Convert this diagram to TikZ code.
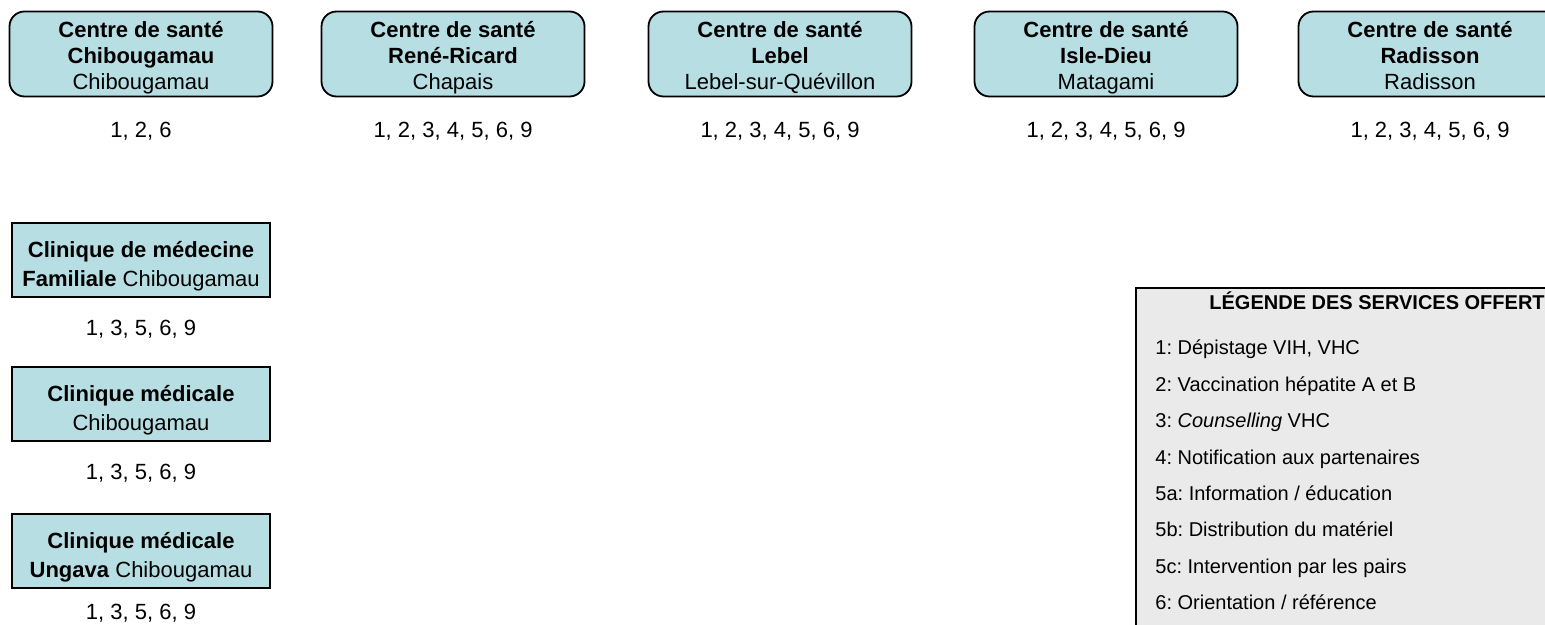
\documentclass[tikz,border=0pt]{standalone}
\usepackage{fontspec}
\setmainfont{Liberation Sans}
\usepackage{xcolor}
\usepackage{tikz}
\usetikzlibrary{positioning}
\frenchspacing

\definecolor{santebleu}{RGB}{183,222,226}
\definecolor{legendegris}{RGB}{234,234,234}

\begin{document}
\begin{tikzpicture}[
    x=0.5pt, y=-0.5pt,
    centrebox/.style={rectangle, draw, line width=0.9pt, rounded corners=7.5pt, fill=santebleu, minimum width=131.5pt, minimum height=42.5pt, align=center, inner sep=1pt, text height=35.2pt, text depth=0pt, font=\fontsize{11}{13}\selectfont},
    cliniquebox/.style={rectangle, draw, line width=0.9pt, fill=santebleu, minimum width=129pt, minimum height=37pt, align=center, inner sep=1pt, text height=26.2pt, text depth=0pt, font=\fontsize{11}{14.5}\selectfont},
    services/.style={font=\fontsize{11}{13}\selectfont},
    legendebox/.style={rectangle, draw, line width=0.9pt, fill=legendegris, anchor=north west, minimum width=240pt, minimum height=200pt},
    legitem/.style={anchor=west, inner sep=0pt, text height=8pt, text depth=2.5pt, font=\fontsize{10}{12}\selectfont}
]
    \useasboundingbox (0,0) rectangle (1545,625);
    \clip (0,0) rectangle (1545,625);

    % centres de sante
    \node[centrebox] (chib) at (141,54) {\textbf{Centre de santé}\\\textbf{Chibougamau}\\Chibougamau};
    \node[centrebox] (rene) at (453,54) {\textbf{Centre de santé}\\\textbf{René-Ricard}\\Chapais};
    \node[centrebox] (lebel) at (780,54) {\textbf{Centre de santé}\\\textbf{Lebel}\\Lebel-sur-Quévillon};
    \node[centrebox] (isle) at (1106,54) {\textbf{Centre de santé}\\\textbf{Isle-Dieu}\\Matagami};
    \node[centrebox] (radis) at (1430,54) {\textbf{Centre de santé}\\\textbf{Radisson}\\Radisson};

    \node[services] (chibserv) at (141,131) {1, 2, 6};
    \node[services] (reneserv) at (453,131) {1, 2, 3, 4, 5, 6, 9};
    \node[services] (lebelserv) at (780,131) {1, 2, 3, 4, 5, 6, 9};
    \node[services] (isleserv) at (1106,131) {1, 2, 3, 4, 5, 6, 9};
    \node[services] (radisserv) at (1430,131) {1, 2, 3, 4, 5, 6, 9};

    % cliniques
    \node[cliniquebox] (cmf) at (141,260) {\textbf{Clinique de médecine}\\\textbf{Familiale} Chibougamau};
    \node[cliniquebox] (cmed) at (141,404) {\textbf{Clinique médicale}\\Chibougamau};
    \node[cliniquebox] (cung) at (141,551) {\textbf{Clinique médicale}\\\textbf{Ungava} Chibougamau};

    \node[services] (cmfserv) at (141,329) {1, 3, 5, 6, 9};
    \node[services] (cmedserv) at (141,473) {1, 3, 5, 6, 9};
    \node[services] (cungserv) at (141,613) {1, 3, 5, 6, 9};

    % legende
    \node[legendebox] (legende) at (1135,287) {};
    \node[legitem, font=\fontsize{10}{12}\selectfont\bfseries] (legtitre) at (1209,304) {LÉGENDE DES SERVICES OFFERT};
    \node[legitem] (leg1) at (1155,349) {1: Dépistage VIH, VHC};
    \node[legitem] (leg2) at (1155,386) {2: Vaccination hépatite A et B};
    \node[legitem] (leg3) at (1155,422) {3: \textit{Counselling} VHC};
    \node[legitem] (leg4) at (1155,459) {4: Notification aux partenaires};
    \node[legitem] (leg5a) at (1155,495) {5a: Information / éducation};
    \node[legitem] (leg5b) at (1155,531) {5b: Distribution du matériel};
    \node[legitem] (leg5c) at (1155,568) {5c: Intervention par les pairs};
    \node[legitem] (leg6) at (1155,604) {6: Orientation / référence};
\end{tikzpicture}
\end{document}
